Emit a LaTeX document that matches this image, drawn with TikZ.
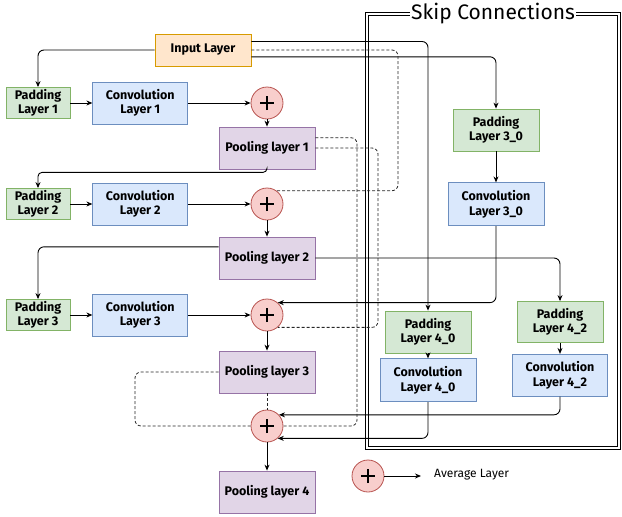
\documentclass[tikz,border=0pt]{standalone}
\usepackage{fontspec}
\setmainfont{Fira Sans}
\usepackage{tikz}
\usetikzlibrary{arrows.meta,positioning,calc}

\definecolor{padfill}{HTML}{D5E8D4}
\definecolor{paddraw}{HTML}{82B366}
\definecolor{convfill}{HTML}{DAE8FC}
\definecolor{convdraw}{HTML}{6C8EBF}
\definecolor{poolfill}{HTML}{E1D5E7}
\definecolor{pooldraw}{HTML}{9673A6}
\definecolor{infill}{HTML}{FFE6CC}
\definecolor{indraw}{HTML}{D79B00}
\definecolor{addfill}{HTML}{F8CECC}
\definecolor{adddraw}{HTML}{B85450}

\begin{document}
\begin{tikzpicture}[
    x=1pt, y=-1pt,
    node distance=22pt,
    block/.style={rectangle, draw, line width=0.8pt, align=center, inner sep=1pt, font=\bfseries\fontsize{12.5}{14.5}\selectfont},
    pad/.style={block, fill=padfill, draw=paddraw, minimum width=64pt, minimum height=31pt},
    skippad/.style={pad, minimum width=86pt, minimum height=42pt},
    conv/.style={block, fill=convfill, draw=convdraw, minimum width=95pt, minimum height=42pt},
    pool/.style={block, fill=poolfill, draw=pooldraw, minimum width=96pt, minimum height=42pt},
    inlayer/.style={block, fill=infill, draw=indraw, minimum width=96pt, minimum height=32pt},
    add/.style={circle, draw=adddraw, fill=addfill, line width=0.8pt, minimum size=32pt, inner sep=0pt,
        path picture={
            \draw[black, line width=2.6pt] ($(path picture bounding box.center)+(-7pt,0pt)$) -- ($(path picture bounding box.center)+(7pt,0pt)$);
            \draw[black, line width=2.6pt] ($(path picture bounding box.center)+(0pt,-7pt)$) -- ($(path picture bounding box.center)+(0pt,7pt)$);
        }},
    frame/.style={draw, double, double distance=2pt, line width=0.6pt},
    arrow/.style={-{Stealth[length=6pt,width=5pt]}, line width=0.9pt, rounded corners=6pt},
    skip/.style={dashed, dash pattern=on 3pt off 2pt, line width=0.8pt, black!85, rounded corners=6pt},
]
\useasboundingbox (0,0) rectangle (622,517);

% skip connection frame
\node[frame, minimum width=252pt, minimum height=434pt] (skipframe) at (493,231) {};
\node[fill=white, inner sep=1pt, font=\fontsize{21}{22}\selectfont] (skiptitle) at (skipframe.north) {Skip Connections};

% main branch
\node[inlayer] (input) at (203,50) {Input Layer};

\node[pad] (pad_1) at (38,103) {Padding\\Layer 1};
\node[conv, right=of pad_1] (conv_1) {Convolution\\Layer 1};
\node[add] (add_1) at (267,103) {};
\node[pool] (pool_1) at (267,148) {Pooling layer 1};

\node[pad] (pad_2) at (38,204) {Padding\\Layer 2};
\node[conv, right=of pad_2] (conv_2) {Convolution\\Layer 2};
\node[add] (add_2) at (267,204) {};
\node[pool] (pool_2) at (267,258) {Pooling layer 2};

\node[pad] (pad_3) at (38,315) {Padding\\Layer 3};
\node[conv, right=of pad_3] (conv_3) {Convolution\\Layer 3};
\node[add] (add_3) at (267,315) {};
\node[pool] (pool_3) at (267,372) {Pooling layer 3};

\node[add] (add_4) at (267,426) {};
\node[pool] (pool_4) at (267,492) {Pooling layer 4};

% skip branches
\node[skippad] (pad_30) at (496,130) {Padding\\Layer 3\_0};
\node[conv, minimum width=96pt, minimum height=43pt, below=31pt of pad_30] (conv_30) {Convolution\\Layer 3\_0};
\node[skippad] (pad_40) at (428,332) {Padding\\Layer 4\_0};
\node[conv, minimum width=96pt, minimum height=43pt, below=5pt of pad_40] (conv_40) {Convolution\\Layer 4\_0};
\node[skippad, minimum height=41pt] (pad_42) at (560,322) {Padding\\Layer 4\_2};
\node[conv, below=11pt of pad_42] (conv_42) {Convolution\\Layer 4\_2};

% legend
\node[add] (legend_add) at (368,476) {};
\coordinate (legend_end) at (421,476);
\node[anchor=west, inner sep=0pt, font=\fontsize{12}{13}\selectfont] (legend_text) at (434,475) {Average Layer};

\coordinate (via_a) at (357,0);
\coordinate (via_b) at (378,0);
\coordinate (via_c) at (398,0);
\coordinate (via_d) at (135,0);

% main flow
\draw[arrow] (input.west) -| (pad_1.north);
\draw[arrow] (pad_1) -- (conv_1);
\draw[arrow] (conv_1) -- (add_1);
\draw[arrow] (add_1) -- (pool_1);
\draw[arrow, rounded corners=4pt] (pool_1.south) -- ++(0,3) -| (pad_2.north);
\draw[arrow] (pad_2) -- (conv_2);
\draw[arrow] (conv_2) -- (add_2);
\draw[arrow] (add_2) -- (pool_2);
\draw[arrow] (pool_2.167) -| (pad_3.north);
\draw[arrow] (pad_3) -- (conv_3);
\draw[arrow] (conv_3) -- (add_3);
\draw[arrow] (add_3) -- (pool_3);
\draw[skip, rounded corners=0pt] (pool_3) -- (add_4);
\draw[arrow] (add_4) -- (pool_4);

% skip flow
\draw[arrow] (input.10) -| (pad_40.north);
\draw[arrow] (input.-8) -| (pad_30.north);
\draw[arrow] (pad_30) -- (conv_30);
\draw[arrow] (conv_30.south) |- (add_3.49);
\draw[arrow] (pool_2.east) -| (pad_42.north);
\draw[arrow] (pad_40.south) -- (pad_40.south |- conv_40.north);
\draw[arrow] (pad_42) -- (conv_42);
\draw[arrow] (conv_42.south) |- (add_4.43);
\draw[arrow] (conv_40.south) |- (add_4.-49);

% dashed links
\draw[skip] (input.east) -| (via_c |- add_2.54) -- (add_2.54);
\draw[skip] (pool_1.east) -| (via_b |- add_3.-49) -- (add_3.-49);
\draw[skip] (pool_1.12) -| (via_a |- add_4.east) -- (add_4.east);
\draw[skip] (pool_3.west) -| (via_d |- add_4.west) -- (add_4.west);

\draw[arrow] (legend_add) -- (legend_end);
\end{tikzpicture}
\end{document}
